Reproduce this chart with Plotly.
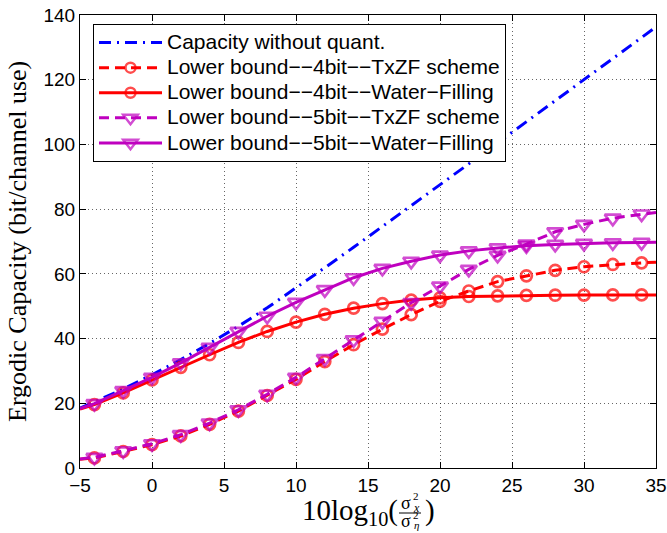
import plotly.graph_objects as go

# ---------------- data ----------------
snr_db = [-5, -4, -2, 0, 2, 4, 6, 8, 10, 12, 14, 16, 18, 20, 22, 24, 26, 28, 30, 32, 34, 35]

cap_no_quant = [18.5, 20.4, 24.4, 28.8, 33.5, 38.5, 43.8, 49.5, 55.6, 61.9, 68.2,
                74.6, 81.0, 87.5, 94.0, 100.5, 107.0, 113.5, 120.0, 126.5, 133.0, 136.3]
lb_4bit_txzf = [2.7, 3.1, 5.1, 7.2, 9.9, 13.5, 17.6, 22.4, 27.4, 32.9, 38.1,
                42.9, 47.4, 51.5, 54.7, 57.6, 59.4, 61.1, 62.2, 62.9, 63.4, 63.6]
lb_4bit_wf = [18.2, 19.6, 23.2, 27.2, 31.1, 35.0, 38.8, 42.2, 45.1, 47.5, 49.4,
              50.8, 51.9, 52.6, 53.0, 53.2, 53.35, 53.4, 53.45, 53.5, 53.5, 53.5]
lb_5bit_txzf = [2.8, 3.3, 5.3, 7.5, 10.3, 13.9, 18.0, 22.8, 28.0, 33.8, 39.6,
                45.3, 51.1, 56.2, 61.4, 65.7, 69.2, 73.0, 75.3, 77.2, 78.5, 79.0]
lb_5bit_wf = [18.4, 19.9, 23.9, 28.0, 32.5, 37.3, 42.2, 46.9, 51.2, 55.1, 58.8,
              61.7, 63.9, 65.8, 67.1, 68.0, 68.7, 69.1, 69.4, 69.6, 69.7, 69.8]

names = ["Capacity without quant.",
         "Lower bound\u2212\u22124bit\u2212\u2212TxZF scheme",
         "Lower bound\u2212\u22124bit\u2212\u2212Water\u2212Filling",
         "Lower bound\u2212\u22125bit\u2212\u2212TxZF scheme",
         "Lower bound\u2212\u22125bit\u2212\u2212Water\u2212Filling"]

x_ticks = [-5, 0, 5, 10, 15, 20, 25, 30, 35]
y_ticks = [0, 20, 40, 60, 80, 100, 120, 140]

# markers only on the even-dB samples (not on the end points)
n = len(snr_db)
show = [0 if (i == 0 or i == n - 1) else 1 for i in range(n)]

BLUE = "#0000FF"
RED = "#FF0000"
MAG = "#BF00BF"


def legend_name(s):
    return '<span style="font-size:21px">' + s + "</span>"


fig = go.Figure()

fig.add_trace(go.Scatter(
    x=snr_db, y=cap_no_quant, name=legend_name(names[0]), mode="lines",
    line=dict(color=BLUE, width=3, dash="12px,6px,2px,6px")))


def marked(y, name, color, dash, symbol, size):
    return go.Scatter(
        x=snr_db, y=y, name=legend_name(name), mode="lines+markers",
        line=dict(color=color, width=3, dash=dash),
        marker=dict(symbol=symbol, color=color,
                    size=[size * s for s in show],
                    line=dict(color=color, width=[2.7 * s for s in show])))


fig.add_trace(marked(lb_4bit_txzf, names[1], RED, "10px,6px", "circle-open", 11))
fig.add_trace(marked(lb_4bit_wf, names[2], RED, "solid", "circle-open", 11))
fig.add_trace(marked(lb_5bit_txzf, names[3], MAG, "10px,6px", "triangle-down-open", 14))
fig.add_trace(marked(lb_5bit_wf, names[4], MAG, "solid", "triangle-down-open", 14))

axis_common = dict(
    showline=True, linecolor="black", linewidth=1, mirror="allticks",
    ticks="inside", ticklen=6, tickcolor="black", tickwidth=1,
    showgrid=True, gridcolor="rgba(0,0,0,0.6)", gridwidth=1, griddash="1px,3px",
    zeroline=False, automargin=False,
    tickfont=dict(family="Liberation Sans, Arial, sans-serif", size=19, color="black"),
)

fig.update_xaxes(range=[-5, 35], tickvals=x_ticks,
                 ticktext=[str(v).replace("-", "\u2212") for v in x_ticks],
                 **axis_common)
fig.update_yaxes(range=[0, 140], tickvals=y_ticks,
                 ticktext=[str(v) for v in y_ticks], **axis_common)

L, R, T, B = 80, 11, 15, 65
W, H = 667, 533
PW, PH = W - L - R, H - T - B


def px(xp):
    return (xp - L) / PW


def py(yp):
    return (H - B - yp) / PH


serif = "Liberation Serif, Times New Roman, serif"
ann = []


def add_text(text, xp, yp, size, xanchor="center", angle=0):
    ann.append(dict(text=text, textangle=angle, x=px(xp), y=py(yp),
                    xref="paper", yref="paper", xanchor=xanchor, yanchor="middle",
                    showarrow=False, borderpad=0,
                    font=dict(family=serif, size=size, color="black")))


# y-axis label
add_text("Ergodic Capacity (bit/channel use)", 17, 242, 26, angle=-90)
# x-axis label: 10log10( sigma_x^2 / sigma_eta^2 )
add_text("10log<sub>10</sub>(", 399, 512, 29, xanchor="right")
add_text("σ", 406, 503, 18)
add_text("2", 416, 496, 11)
add_text("<i>x</i>", 416, 508, 12)
add_text("σ", 406, 521, 18)
add_text("2", 416, 515, 11)
add_text("<i>η</i>", 416, 525, 11)
add_text(")", 424, 510, 29, xanchor="left")

shapes = [dict(type="line", xref="paper", yref="paper",
               x0=px(399), x1=px(421), y0=py(513), y1=py(513),
               line=dict(color="black", width=1))]

fig.update_layout(
    template="none",
    width=W, height=H,
    margin=dict(l=L, r=R, t=T, b=B, autoexpand=False),
    paper_bgcolor="white", plot_bgcolor="white",
    annotations=ann, shapes=shapes,
    legend=dict(x=px(93), y=py(24), xanchor="left", yanchor="top",
                bgcolor="white", bordercolor="black", borderwidth=1,
                font=dict(family="Liberation Sans, Arial, sans-serif", size=17, color="black"),
                itemwidth=63, tracegroupgap=0),
    showlegend=True,
)

fig.write_html("out.html", config={"displayModeBar": False},
               post_script="document.body.style.margin='0';document.body.style.overflow='hidden';")
